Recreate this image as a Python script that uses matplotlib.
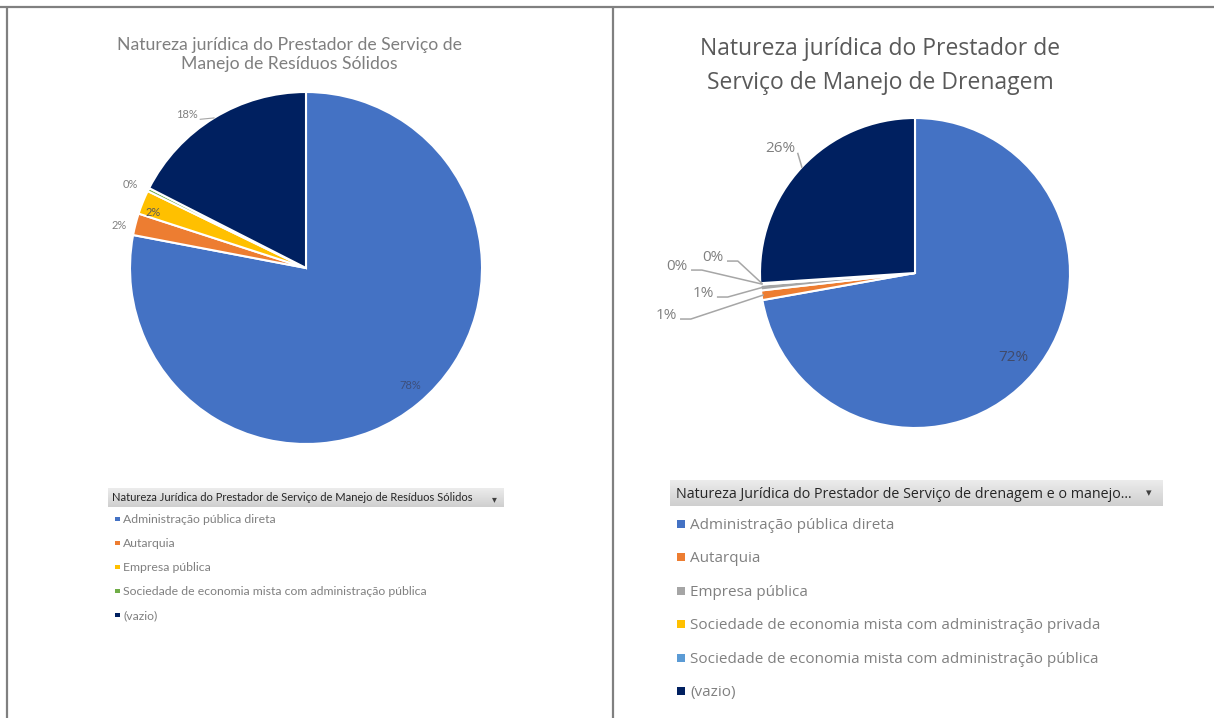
import numpy as np
import matplotlib
matplotlib.use("Agg")
import matplotlib.pyplot as plt
from matplotlib.patches import Rectangle
from matplotlib.lines import Line2D

# ---------------- data ----------------
left_title = ["Natureza jurídica do Prestador de Serviço de", "Manejo de Resíduos Sólidos"]
left_legend_title = "Natureza Jurídica do Prestador de Serviço de Manejo de Resíduos Sólidos"
left_categories = ["Administração pública direta", "Autarquia", "Empresa pública",
                   "Sociedade de economia mista com administração pública", "(vazio)"]
left_values = [78.0, 2.0, 2.2, 0.3, 17.5]
left_colors = ["#4472C4", "#ED7D31", "#FFC000", "#70AD47", "#002060"]

right_title = ["Natureza jurídica do Prestador de", "Serviço de Manejo de Drenagem"]
right_legend_title = "Natureza Jurídica do Prestador de Serviço de drenagem e o manejo..."
right_categories = ["Administração pública direta", "Autarquia", "Empresa pública",
                    "Sociedade de economia mista com administração privada",
                    "Sociedade de economia mista com administração pública", "(vazio)"]
right_values = [72.2, 1.0, 0.6, 0.1, 0.05, 26.05]
right_colors = ["#4472C4", "#ED7D31", "#A5A5A5", "#FFC000", "#5B9BD5", "#002060"]

# ---------------- layout ----------------
W, H = 1214, 718
fig = plt.figure(figsize=(W / 100, H / 100), dpi=100)
fig.patch.set_facecolor("white")

over = fig.add_axes([0, 0, 1, 1], zorder=5)
over.set_xlim(0, W)
over.set_ylim(H, 0)
over.axis("off")
over.patch.set_alpha(0)

# frame lines
for xs, ys in [((0, W), (6.5, 6.5)), ((6.5, 6.5), (6, H)), ((612.5, 612.5), (6, H))]:
    over.add_line(Line2D(xs, ys, color="#808080", lw=1.6, solid_capstyle="butt"))


def pie_axes(cx, cy, r):
    return fig.add_axes([(cx - r) / W, 1 - (cy + r) / H, 2 * r / W, 2 * r / H])


def mid_angles(vals):
    tot = float(sum(vals))
    cum = np.concatenate([[0], np.cumsum(vals)]) / tot
    start = 90 - 360 * cum[:-1]
    end = 90 - 360 * cum[1:]
    return np.deg2rad((start + end) / 2)


def draw_pie(ax, vals, cols):
    ax.pie(vals, colors=cols, startangle=90, counterclock=False,
           wedgeprops=dict(edgecolor="white", linewidth=1.5))
    ax.set_xlim(-1, 1)
    ax.set_ylim(-1, 1)
    ax.set_aspect("equal")
    ax.axis("off")


def pct(v, vals):
    return "{:.0f}%".format(100 * v / sum(vals))


# ---------------- left pie ----------------
axL = pie_axes(306, 268, 176)
draw_pie(axL, left_values, left_colors)
fL = "Lato"
left_label_pos = [(0.59, -0.67), (-1.063, 0.239), (-0.869, 0.3125), (-1.0, 0.477), (-0.676, 0.875)]
left_label_col = ["#3d4f7c", "#808080", "#595959", "#808080", "#808080"]
angL = mid_angles(left_values)
for i, v in enumerate(left_values):
    x, y = left_label_pos[i]
    axL.text(x, y, pct(v, left_values), ha="center", va="center", fontsize=8,
             color=left_label_col[i], family=fL, clip_on=False)
a = angL[4]
axL.plot([left_label_pos[4][0] + 0.075, np.cos(a)], [left_label_pos[4][1] - 0.03, np.sin(a)],
         color="#A6A6A6", lw=0.8, clip_on=False)

for k, line in enumerate(left_title):
    over.text(289, [50, 69][k], line, ha="center", va="baseline", fontsize=12.7,
              color="#7f7f7f", family=fL)

# left legend header
grad = np.linspace(0, 1, 50).reshape(-1, 1)
cmap_hdr = matplotlib.colors.LinearSegmentedColormap.from_list("g", ["#ececec", "#cfcfcf"])
over.imshow(grad, extent=(108, 504, 507, 488), cmap=cmap_hdr, aspect="auto", zorder=1)
over.text(112, 501, left_legend_title, ha="left", va="baseline", fontsize=8,
          color="#262626", family=fL, zorder=3)
over.text(494, 499, "▾", ha="center", va="center", fontsize=7, color="#404040",
          family="DejaVu Sans", zorder=3)
for i, (cat, col) in enumerate(zip(left_categories, left_colors)):
    yc = 519 + i * 24
    over.add_patch(Rectangle((115, yc - 2.5), 4.5, 4.5, facecolor=col, edgecolor="none"))
    over.text(123, yc + 4, cat, ha="left", va="baseline", fontsize=8.8,
              color="#808080", family=fL)

# ---------------- right pie ----------------
axR = pie_axes(915, 273, 155)
draw_pie(axR, right_values, right_colors)
fR = "Open Sans"
right_label_pos = [(0.632, -0.542), (-1.606, -0.277), (-1.368, -0.135), (-1.535, 0.039),
                   (-1.303, 0.097), (-0.871, 0.806)]
right_label_col = ["#404a6a", "#808080", "#808080", "#808080", "#808080", "#808080"]
angR = mid_angles(right_values)
for i, v in enumerate(right_values):
    x, y = right_label_pos[i]
    axR.text(x, y, pct(v, right_values), ha="center", va="center", fontsize=11,
             color=right_label_col[i], family=fR, clip_on=False)
for i in [1, 2, 3, 4]:
    x, y = right_label_pos[i]
    x0 = x + 0.095
    x1 = x0 + 0.065
    yl = y - 0.02
    a = angR[i]
    axR.plot([x0, x1, np.cos(a) * 0.99], [yl, yl, np.sin(a) * 0.99],
             color="#A6A6A6", lw=1.1, clip_on=False)
a = angR[5]
axR.plot([right_label_pos[5][0] + 0.115, np.cos(a)], [right_label_pos[5][1] - 0.035, np.sin(a)],
         color="#A6A6A6", lw=1.1, clip_on=False)

for k, line in enumerate(right_title):
    over.text(880, [55, 89][k], line, ha="center", va="baseline", fontsize=16.5,
              color="#595959", family=fR)

over.imshow(grad, extent=(670, 1163, 506, 480), cmap=cmap_hdr, aspect="auto", zorder=1)
over.text(676, 498, right_legend_title, ha="left", va="baseline", fontsize=10.3,
          color="#262626", family=fR, zorder=3)
over.text(1149, 493, "▾", ha="center", va="center", fontsize=8, color="#404040",
          family="DejaVu Sans", zorder=3)
for i, (cat, col) in enumerate(zip(right_categories, right_colors)):
    yc = 524 + i * 33.4
    over.add_patch(Rectangle((677, yc - 4), 8, 8, facecolor=col, edgecolor="none"))
    over.text(690, yc + 5, cat, ha="left", va="baseline", fontsize=10.95,
              color="#808080", family=fR)

over.set_xlim(0, W)
over.set_ylim(H, 0)
fig.savefig("out.png", dpi=100, facecolor="white")
